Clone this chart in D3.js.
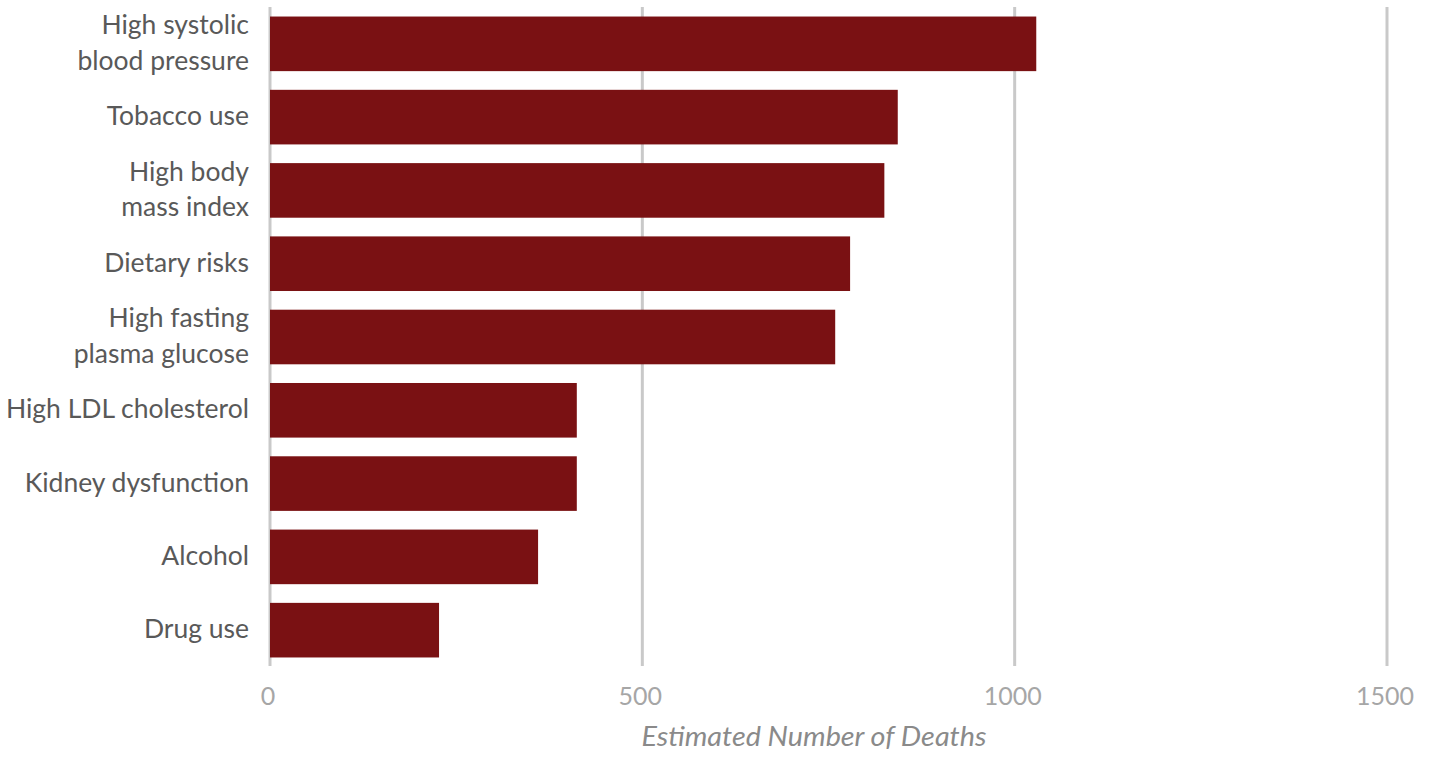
<!DOCTYPE html>
<html>
<head>
<meta charset="utf-8">
<script src="https://cdn.jsdelivr.net/npm/d3@7"></script>
<style>
  html, body { margin: 0; padding: 0; background: #fff; }
  svg { display: block; }
</style>
</head>
<body>
<svg id="chart" width="1429" height="762"></svg>
<script>
const categories = [
  "High systolic|blood pressure",
  "Tobacco use",
  "High body|mass index",
  "Dietary risks",
  "High fasting|plasma glucose",
  "High LDL cholesterol",
  "Kidney dysfunction",
  "Alcohol",
  "Drug use"
];
const deaths = [1029, 843, 825, 779, 759, 412, 412, 360, 227];
const xTicks = [0, 500, 1000, 1500];
const xTitle = "Estimated Number of Deaths";

const data = categories.map((c, i) => ({ label: c, value: deaths[i] }));

const svg = d3.select("#chart");
const x = d3.scaleLinear().domain([0, 1500]).range([270, 1387]);
const y = d3.scaleBand().domain(categories).range([7, 667])
  .paddingInner(0.255).paddingOuter(0.13);

const font = "Lato, 'Open Sans', sans-serif";

// gridlines
svg.append("g").selectAll("line").data(xTicks).join("line")
  .attr("x1", d => x(d)).attr("x2", d => x(d))
  .attr("y1", y.range()[0]).attr("y2", y.range()[1] - 1)
  .attr("stroke", "#c9c9c9").attr("stroke-width", 3);

// bars
svg.append("g").selectAll("rect").data(data).join("rect")
  .attr("x", x(0))
  .attr("y", d => y(d.label))
  .attr("width", d => x(d.value) - x(0))
  .attr("height", y.bandwidth())
  .attr("fill", "#7a1113");

// category labels
const lab = svg.append("g").selectAll("text").data(data).join("text")
  .attr("text-anchor", "end")
  .attr("font-family", font)
  .attr("font-size", 26.5)
  .attr("fill", "#595959")
  .attr("transform", d => `translate(249, ${y(d.label) + y.bandwidth() / 2 + 8})`);
lab.each(function(d) {
  const lines = d.label.split("|");
  const t = d3.select(this);
  const lh = 35.5;
  lines.forEach((ln, i) => {
    t.append("tspan").attr("x", 0)
      .attr("y", (i - (lines.length - 1) / 2) * lh)
      .text(ln);
  });
});

// tick labels
svg.append("g").selectAll("text").data(xTicks).join("text")
  .attr("x", d => x(d) - 2)
  .attr("y", 705)
  .attr("text-anchor", "middle")
  .attr("font-family", font)
  .attr("font-size", 25)
  .attr("fill", "#a6a6a6")
  .text(d => d);

// axis title
svg.append("text")
  .attr("x", 814).attr("y", 746)
  .attr("text-anchor", "middle")
  .attr("font-family", font)
  .attr("font-style", "italic")
  .attr("font-size", 26.5)
  .attr("textLength", 345)
  .attr("lengthAdjust", "spacingAndGlyphs")
  .attr("fill", "#8a8a8a")
  .text(xTitle);
</script>
</body>
</html>
